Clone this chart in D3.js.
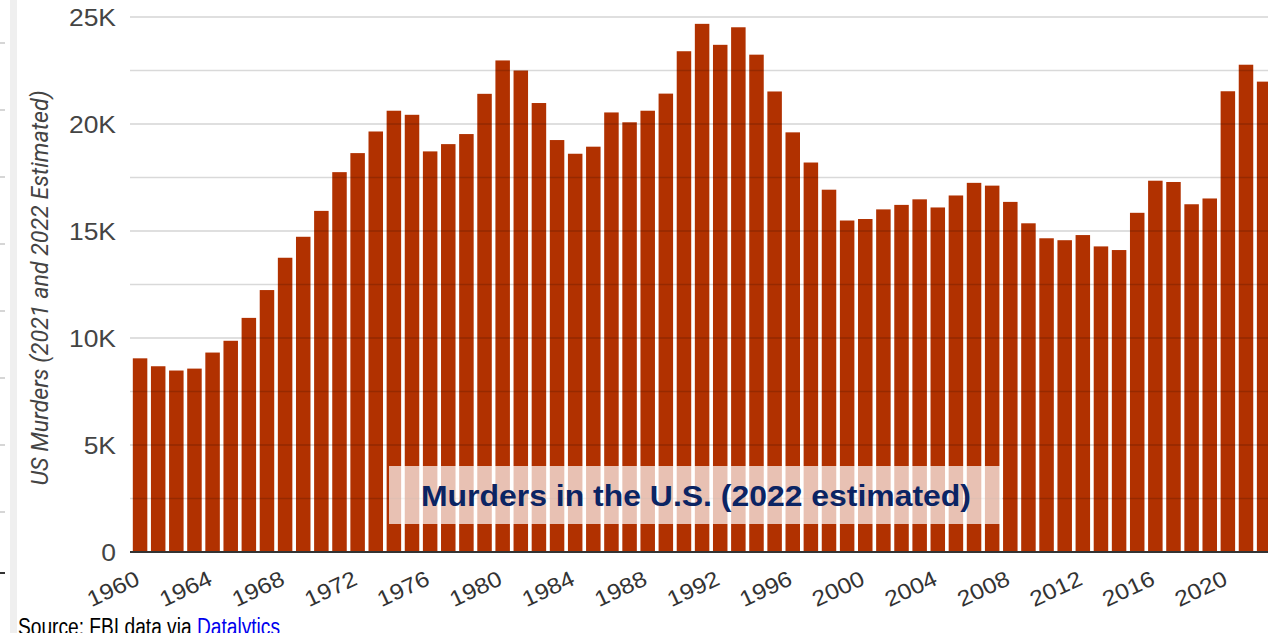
<!DOCTYPE html>
<html>
<head>
<meta charset="utf-8">
<script src="https://cdn.jsdelivr.net/npm/d3@7"></script>
<style>
  html, body { margin: 0; padding: 0; background: #fff; overflow: hidden; }
  svg { display: block; }
</style>
</head>
<body>
<div id="chart"></div>
<script>
// years on the x axis
var years = d3.range(1960, 2023);
// murders per year (2021, 2022 estimated)
var murders = [
  9050, 8680, 8480, 8570, 9320, 9870, 10940, 12240, 13750, 14730,
  15940, 17750, 18640, 19650, 20620, 20430, 18720, 19060, 19530, 21410,
  22970, 22500, 20980, 19250, 18610, 18940, 20540, 20080, 20620, 21420,
  23400, 24680, 23700, 24520, 23240, 21520, 19610, 18200, 16930, 15490,
  15560, 16010, 16220, 16480, 16100, 16660, 17250, 17120, 16360, 15360,
  14660, 14570, 14810, 14280, 14110, 15850, 17350, 17290, 16250, 16520,
  21530, 22770, 21980
];
var tickYears = [1960, 1964, 1968, 1972, 1976, 1980, 1984, 1988, 1992, 1996, 2000, 2004, 2008, 2012, 2016, 2020];
var yTicks = [0, 5000, 10000, 15000, 20000, 25000];
var yMinor = [2500, 7500, 12500, 17500, 22500];

(function(){
  var width = 1268, height = 633;
  var plotLeft = 131, plotBottom = 552, plotTop = 17;

  var svg = d3.select("#chart").append("svg")
    .attr("width", width)
    .attr("height", height);

  // bits of a neighbouring panel at the left edge
  svg.append("rect").attr("x", 10).attr("y", 0).attr("width", 7).attr("height", height).attr("fill", "#efefef");
  svg.selectAll(".edgetick").data(d3.range(8)).enter().append("line")
    .attr("x1", 0).attr("x2", 5)
    .attr("y1", function(d){ return 43 + d * 67; })
    .attr("y2", function(d){ return 43 + d * 67; })
    .attr("stroke", "#bbb").attr("stroke-width", 1.2);
  svg.append("line").attr("x1", 0).attr("x2", 5).attr("y1", 573).attr("y2", 573)
    .attr("stroke", "#333").attr("stroke-width", 2);

  var x = d3.scaleBand()
    .domain(years)
    .range([plotLeft, plotLeft + years.length * 18.13])
    .paddingInner(0.2)
    .paddingOuter(0.1);

  var y = d3.scaleLinear()
    .domain([0, 25000])
    .range([plotBottom, plotTop]);

  // bars
  svg.append("g").selectAll("rect")
    .data(murders)
    .enter().append("rect")
    .attr("x", function(d, i){ return x(years[i]); })
    .attr("y", function(d){ return y(d); })
    .attr("width", x.bandwidth())
    .attr("height", function(d){ return plotBottom - y(d); })
    .attr("fill", "#b13100");

  // gridlines drawn over the bars, faint
  var grid = svg.append("g");
  grid.selectAll(".major").data(yTicks.slice(1)).enter().append("line")
    .attr("x1", 130).attr("x2", width)
    .attr("y1", function(d){ return y(d); }).attr("y2", function(d){ return y(d); })
    .attr("stroke", "rgba(0,0,0,0.17)").attr("stroke-width", 1.5);
  grid.selectAll(".minor").data(yMinor).enter().append("line")
    .attr("x1", 130).attr("x2", width)
    .attr("y1", function(d){ return y(d); }).attr("y2", function(d){ return y(d); })
    .attr("stroke", "rgba(0,0,0,0.15)").attr("stroke-width", 1.5);

  // baseline
  svg.append("line").attr("x1", 130).attr("x2", width)
    .attr("y1", plotBottom).attr("y2", plotBottom)
    .attr("stroke", "#333").attr("stroke-width", 2);

  // y tick labels
  var fmt = function(d){ return d === 0 ? "0" : (d / 1000) + "K"; };
  svg.selectAll(".ylab").data(yTicks).enter().append("text")
    .attr("transform", function(d){ return "translate(116," + (y(d) + 8.5) + ") scale(1.15,1)"; })
    .attr("text-anchor", "end")
    .attr("font-family", "Liberation Sans, Arial, sans-serif")
    .attr("font-size", 23)
    .attr("fill", "#444")
    .text(fmt);

  // x tick labels
  svg.selectAll(".xlab").data(tickYears).enter().append("text")
    .attr("transform", function(d){
      var cx = x(d) + x.bandwidth() / 2 + 1;
      return "translate(" + cx + ",584) rotate(-25) scale(1.12,1)";
    })
    .attr("text-anchor", "end")
    .attr("font-family", "Liberation Sans, Arial, sans-serif")
    .attr("font-size", 22)
    .attr("fill", "#333")
    .text(function(d){ return d; });

  // y axis title
  svg.append("text")
    .attr("transform", "translate(48,288) rotate(-90)")
    .attr("text-anchor", "middle")
    .attr("font-family", "Roboto, Liberation Sans, sans-serif")
    .attr("font-style", "italic")
    .attr("font-size", 23)
    .attr("fill", "#444")
    .attr("textLength", 395)
    .attr("lengthAdjust", "spacingAndGlyphs")
    .text("US Murders (2021 and 2022 Estimated)");

  // title box
  svg.append("rect")
    .attr("x", 389).attr("y", 466).attr("width", 613).attr("height", 58)
    .attr("fill", "#fff").attr("fill-opacity", 0.7);
  svg.append("text")
    .attr("x", 696).attr("y", 506)
    .attr("text-anchor", "middle")
    .attr("font-family", "Liberation Sans, Arial, sans-serif")
    .attr("font-weight", "bold")
    .attr("font-size", 30)
    .attr("fill", "#0b2463")
    .attr("textLength", 550)
    .attr("lengthAdjust", "spacingAndGlyphs")
    .text("Murders in the U.S. (2022 estimated)");

  // source line
  var src = svg.append("text")
    .attr("x", 18).attr("y", 635)
    .attr("font-family", "Liberation Sans, Arial, sans-serif")
    .attr("font-size", 23)
    .attr("textLength", 262)
    .attr("lengthAdjust", "spacingAndGlyphs");
  src.append("tspan").attr("fill", "#000").text("Source: FBI data via ");
  src.append("tspan").attr("fill", "#0000ee").text("Datalytics");
})();
</script>
</body>
</html>
